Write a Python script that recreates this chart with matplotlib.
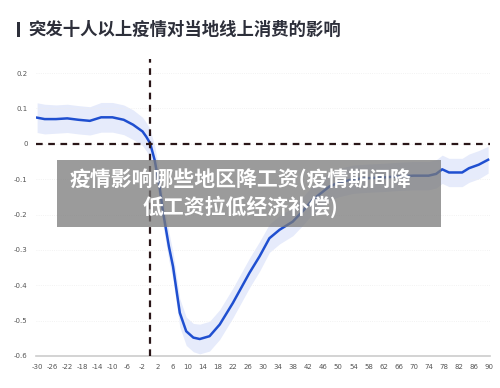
import numpy as np
import matplotlib.pyplot as plt
from matplotlib.patches import Rectangle

plt.rcParams['font.family'] = ['Noto Sans CJK SC', 'DejaVu Sans']

# 数据：事件前后天数与线上消费影响
dias = [-30, -28, -25, -22, -19, -16, -13, -10, -7, -4.5, -2, -1, 0, 1.2, 2.5, 3.5,
        5, 6.1, 7.9, 9.6, 11.5, 13.2, 15.8, 18.5, 22, 26.4, 29.1, 31.7, 34.4, 37.9,
        40.5, 43.2, 47.6, 50, 54, 58, 62, 66, 70, 74, 76, 77.6, 79.4, 82.9, 84.7,
        87.3, 89.8]
efecto = [0.074, 0.07, 0.07, 0.072, 0.068, 0.065, 0.075, 0.075, 0.068, 0.054, 0.035,
          0.02, 0.002, -0.045, -0.12, -0.196, -0.29, -0.347, -0.478, -0.53, -0.548,
          -0.552, -0.544, -0.511, -0.45, -0.365, -0.318, -0.267, -0.243, -0.22,
          -0.191, -0.158, -0.121, -0.11, -0.1, -0.097, -0.095, -0.092, -0.09, -0.09,
          -0.085, -0.072, -0.081, -0.081, -0.069, -0.059, -0.045]
banda = [0.042, 0.042, 0.04, 0.04, 0.04, 0.04, 0.042, 0.042, 0.042, 0.042, 0.04,
         0.04, 0.04, 0.04, 0.04, 0.04, 0.04, 0.04, 0.04, 0.04, 0.04, 0.042, 0.042,
         0.042, 0.042, 0.042, 0.042, 0.04, 0.04, 0.04, 0.04, 0.04, 0.04, 0.04, 0.04,
         0.04, 0.04, 0.04, 0.04, 0.04, 0.04, 0.04, 0.04, 0.04, 0.04, 0.04, 0.038]

xticks = list(range(-30, 91, 4))
yticks = [0.2, 0.1, 0, -0.1, -0.2, -0.3, -0.4, -0.5, -0.6]
ylabels = ['0.2', '0.1', '0', '-0.1', '-0.2', '-0.3', '-0.4', '-0.5', '-0.6']

titulo = '突发十人以上疫情对当地线上消费的影响'
texto_caja = '疫情影响哪些地区降工资(疫情期间降\n低工资拉低经济补偿)'

x = np.array(dias)
y = np.array(efecto)
b = np.array(banda)

fig = plt.figure(figsize=(5, 3.88), dpi=100)
ax = fig.add_axes([0.072, 0.0825, 0.908, 0.7655])

# Banda de confianza y línea principal
ax.fill_between(x, y - b, y + b, color='#e6ebfb', lw=0, zorder=1)
ax.plot(x, y, color='#1f4fd0', lw=1.8, zorder=3)

# Líneas de referencia punteadas
ax.axhline(0, color='#2a1618', lw=1.6, ls=(0, (3, 2.5)), zorder=4)
ax.axvline(0, color='#2a1618', lw=1.6, ls=(0, (3, 2.5)), zorder=4)

ax.set_xlim(-30.3, 90.3)
ax.set_ylim(-0.6, 0.24)
ax.set_xticks(xticks)
ax.set_xticklabels([str(t) for t in xticks], fontsize=5, color='#555555',
                   family='DejaVu Sans')
ax.set_yticks(yticks)
ax.set_yticklabels(ylabels, fontsize=5, color='#555555', family='DejaVu Sans')
ax.tick_params(length=0, pad=6)
ax.grid(axis='y', color='#eeeeee', lw=0.6, ls=':')
for s in ['top', 'right', 'left']:
    ax.spines[s].set_visible(False)
ax.spines['bottom'].set_color('#cccccc')
ax.spines['bottom'].set_linewidth(1.2)

# Título con barra vertical
fig.patches.append(Rectangle((0.034, 0.905), 0.006, 0.038, transform=fig.transFigure,
                             facecolor='#2d2f3a', edgecolor='none'))
fig.text(0.056, 0.923, titulo, fontsize=12.5, color='#2d2f3a', va='center',
         ha='left', fontweight='bold')

# Caja gris superpuesta
fig.patches.append(Rectangle((0.114, 0.415), 0.768, 0.173, transform=fig.transFigure,
                             facecolor='#7a7a7a', alpha=0.75, zorder=10))
fig.text(0.48, 0.502, texto_caja, fontsize=15, color='white', fontweight='bold',
         ha='center', va='center', linespacing=1.3, zorder=11)

fig.savefig('out.png', dpi=100)
